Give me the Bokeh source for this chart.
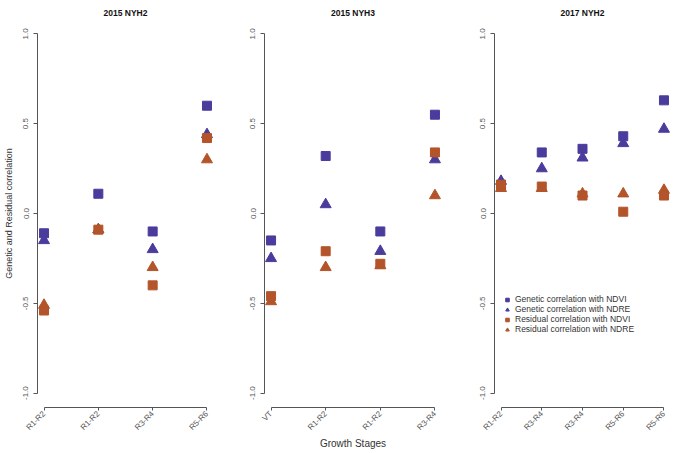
import math
from bokeh.plotting import figure
from bokeh.layouts import row
from bokeh.models import FixedTicker, Legend, LegendItem, Range1d, NumeralTickFormatter
from bokeh.embed import file_html
from bokeh.resources import INLINE

# ---- data ----
titles = ["2015 NYH2", "2015 NYH3", "2017 NYH2"]

stages_1 = ["R1-R2", "R1-R2", "R3-R4", "R5-R6"]
gen_ndvi_1 = [-0.11, 0.11, -0.10, 0.60]
gen_ndre_1 = [-0.15, -0.09, -0.20, 0.44]
res_ndvi_1 = [-0.54, -0.09, -0.40, 0.42]
res_ndre_1 = [-0.51, -0.09, -0.30, 0.30]

stages_2 = ["VT", "R1-R2", "R1-R2", "R3-R4"]
gen_ndvi_2 = [-0.15, 0.32, -0.10, 0.55]
gen_ndre_2 = [-0.25, 0.05, -0.21, 0.30]
res_ndvi_2 = [-0.46, -0.21, -0.28, 0.34]
res_ndre_2 = [-0.49, -0.30, -0.29, 0.10]

stages_3 = ["R1-R2", "R3-R4", "R3-R4", "R5-R6", "R5-R6"]
gen_ndvi_3 = [0.16, 0.34, 0.36, 0.43, 0.63]
gen_ndre_3 = [0.18, 0.25, 0.31, 0.39, 0.47]
res_ndvi_3 = [0.16, 0.15, 0.10, 0.01, 0.10]
res_ndre_3 = [0.14, 0.14, 0.11, 0.11, 0.13]

y_ticks = [-1.0, -0.5, 0.0, 0.5, 1.0]
series_labels = ["Genetic correlation with NDVI", "Genetic correlation with NDRE",
                 "Residual correlation with NDVI", "Residual correlation with NDRE"]
x_title = "Growth Stages"
y_title = "Genetic and Residual correlation"

PURPLE = "#4a3c9c"
ORANGE = "#b3542a"
FONT = "Liberation Sans"
H = 452


def make_panel(title, stages, gn, ge, rn, rre, width, min_left, min_right,
               ylabel=None, xlabel=None, legend=False):
    n = len(stages)
    xs = list(range(n))
    pad = 0.04 * (n - 1)
    p = figure(width=width, height=H,
               x_range=Range1d(-pad, n - 1 + pad),
               y_range=Range1d(-1.08, 1.08),
               output_backend="svg", toolbar_location=None,
               min_border_left=min_left, min_border_right=min_right,
               min_border_top=19, min_border_bottom=38,
               title=title)
    p.grid.visible = False
    p.outline_line_color = None
    p.background_fill_color = "white"
    p.border_fill_color = "white"

    p.title.text_font = FONT
    p.title.text_font_size = "8.5px"
    p.title.text_font_style = "bold"
    p.title.text_color = "#111111"
    p.title.align = "center"
    p.title.vertical_align = "top"
    p.title.standoff = 0

    # y axis
    ya = p.yaxis[0]
    ya.ticker = FixedTicker(ticks=y_ticks)
    ya.formatter = NumeralTickFormatter(format="0.0")
    ya.bounds = (-1, 1)
    ya.major_label_orientation = "vertical"
    ya.major_tick_out = 4
    ya.major_tick_in = 0
    ya.minor_tick_out = 0
    ya.minor_tick_in = 0
    ya.axis_line_color = "#555555"
    ya.major_tick_line_color = "#555555"
    ya.major_label_text_font = FONT
    ya.major_label_text_font_size = "8px"
    ya.major_label_text_color = "#555555"
    ya.major_label_standoff = 5
    if ylabel:
        ya.axis_label = ylabel
        ya.axis_label_text_font = FONT
        ya.axis_label_text_font_size = "9px"
        ya.axis_label_text_font_style = "normal"
        ya.axis_label_text_color = "#333333"
        ya.axis_label_standoff = 7

    # x axis
    xa = p.xaxis[0]
    xa.ticker = FixedTicker(ticks=xs)
    xa.major_label_overrides = {i: s for i, s in enumerate(stages)}
    xa.bounds = (0, n - 1)
    xa.major_label_orientation = math.pi / 4
    xa.major_tick_out = 3
    xa.major_tick_in = 0
    xa.minor_tick_out = 0
    xa.minor_tick_in = 0
    xa.axis_line_color = "#555555"
    xa.major_tick_line_color = "#555555"
    xa.major_label_text_font = FONT
    xa.major_label_text_font_size = "8px"
    xa.major_label_text_color = "#555555"
    xa.major_label_standoff = 2
    if xlabel:
        xa.axis_label = xlabel
        xa.axis_label_text_font = FONT
        xa.axis_label_text_font_size = "10px"
        xa.axis_label_text_font_style = "normal"
        xa.axis_label_text_color = "#333333"
        xa.axis_label_standoff = 0

    r_ge = p.scatter(xs, ge, marker="triangle", size=11, fill_color=PURPLE, line_color=PURPLE)
    r_gn = p.scatter(xs, gn, marker="square", size=9, fill_color=PURPLE, line_color=PURPLE)
    r_re = p.scatter(xs, rre, marker="triangle", size=11, fill_color=ORANGE, line_color=ORANGE)
    r_rn = p.scatter(xs, rn, marker="square", size=9, fill_color=ORANGE, line_color=ORANGE)

    if legend:
        items = [LegendItem(label=series_labels[0], renderers=[r_gn]),
                 LegendItem(label=series_labels[1], renderers=[r_ge]),
                 LegendItem(label=series_labels[2], renderers=[r_rn]),
                 LegendItem(label=series_labels[3], renderers=[r_re])]
        lg = Legend(items=items, location=(7, 73),
                    glyph_width=12, glyph_height=9, label_height=9,
                    label_standoff=2, spacing=0, padding=0, margin=0,
                    label_text_font=FONT, label_text_font_size="8.5px",
                    label_text_color="#333333",
                    border_line_color=None, background_fill_alpha=0)
        p.add_layout(lg)
    return p


p1 = make_panel(titles[0], stages_1, gen_ndvi_1, gen_ndre_1, res_ndvi_1, res_ndre_1,
                238, 35, 25, ylabel=y_title)
p2 = make_panel(titles[1], stages_2, gen_ndvi_2, gen_ndre_2, res_ndvi_2, res_ndre_2,
                229, 26, 26, xlabel=x_title)
p3 = make_panel(titles[2], stages_3, gen_ndvi_3, gen_ndre_3, res_ndvi_3, res_ndre_3,
                208, 27, 5, legend=True)

layout = row(p1, p2, p3, spacing=0)

open("out.html", "w").write(file_html(layout, INLINE))
